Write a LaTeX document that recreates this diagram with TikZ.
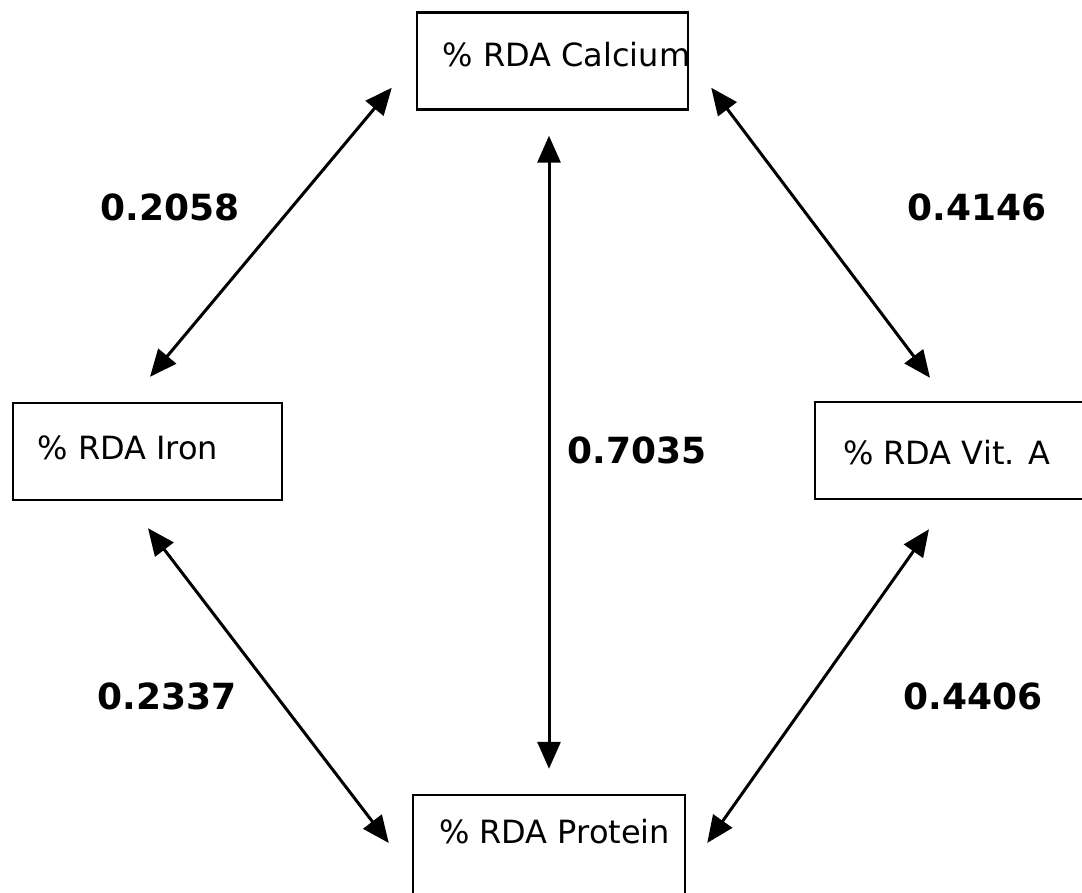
\documentclass[tikz,border=0pt]{standalone}
\usepackage{fontspec}
\setmainfont{DejaVu Sans}
\usetikzlibrary{arrows.meta}

% box text: fixed-width left-aligned line, raised by an optional amount
\newcommand{\boxtxt}[2][0pt]{\raisebox{#1}{\makebox[220pt][l]{#2}}}

\tikzset{
  varbox/.style={draw, line width=2.4pt, rectangle, minimum width=270pt,
    minimum height=97pt, inner xsep=25pt, inner ysep=0pt,
    text height=23pt, text depth=0pt,
    font=\fontsize{32}{38}\selectfont},
  corr/.style={font=\fontsize{36}{43}\selectfont\bfseries, inner sep=0pt},
  link/.style={line width=3pt, {Triangle[length=27pt,width=23pt]}-{Triangle[length=27pt,width=23pt]}}
}

\begin{document}
\begin{tikzpicture}[x=1pt, y=-1pt]
  \useasboundingbox (0,0) rectangle (1082,893);
  \fill[white] (0,0) rectangle (1082,893);
  \clip (0,0) rectangle (1082,893);

  % variables
  \node[varbox, minimum width=271pt] (cal)  at (552.5,61)   {\boxtxt[6pt]{\% RDA Calcium}};
  \node[varbox, minimum width=269pt, inner xsep=22pt] (iron) at (147.5,451.5) {\boxtxt[3.5pt]{\% RDA Iron}};
  \node[varbox, minimum width=276pt, inner xsep=27pt] (vita) at (953,450.5) {\boxtxt[-2.5pt]{\% RDA Vit. A}};
  \node[varbox, minimum width=272pt, minimum height=104pt] (prot) at (549,847) {\boxtxt[15pt]{\% RDA Protein}};

  % correlations
  \draw[link] ([shift={(-24,-23)}]cal.south west) -- ([shift={(2.5,-25)}]iron.north);
  \draw[link] ([shift={(22,-23)}]cal.south east) -- ([shift={(-23,-23)}]vita.north);
  \draw[link] ([shift={(-3.5,25)}]cal.south) -- ([shift={(0,-25)}]prot.north);
  \draw[link] ([shift={(0.5,27)}]iron.south) -- ([shift={(-23,-4)}]prot.west);
  \draw[link] ([shift={(-24,29)}]vita.south) -- ([shift={(21,-4)}]prot.east);

  % coefficients
  \node[corr] (r1) at (170,207) {0.2058};
  \node[corr] (r2) at (977,207) {0.4146};
  \node[corr] (r3) at (637,450) {0.7035};
  \node[corr] (r4) at (167,696) {0.2337};
  \node[corr] (r5) at (973,696) {0.4406};
\end{tikzpicture}
\end{document}
